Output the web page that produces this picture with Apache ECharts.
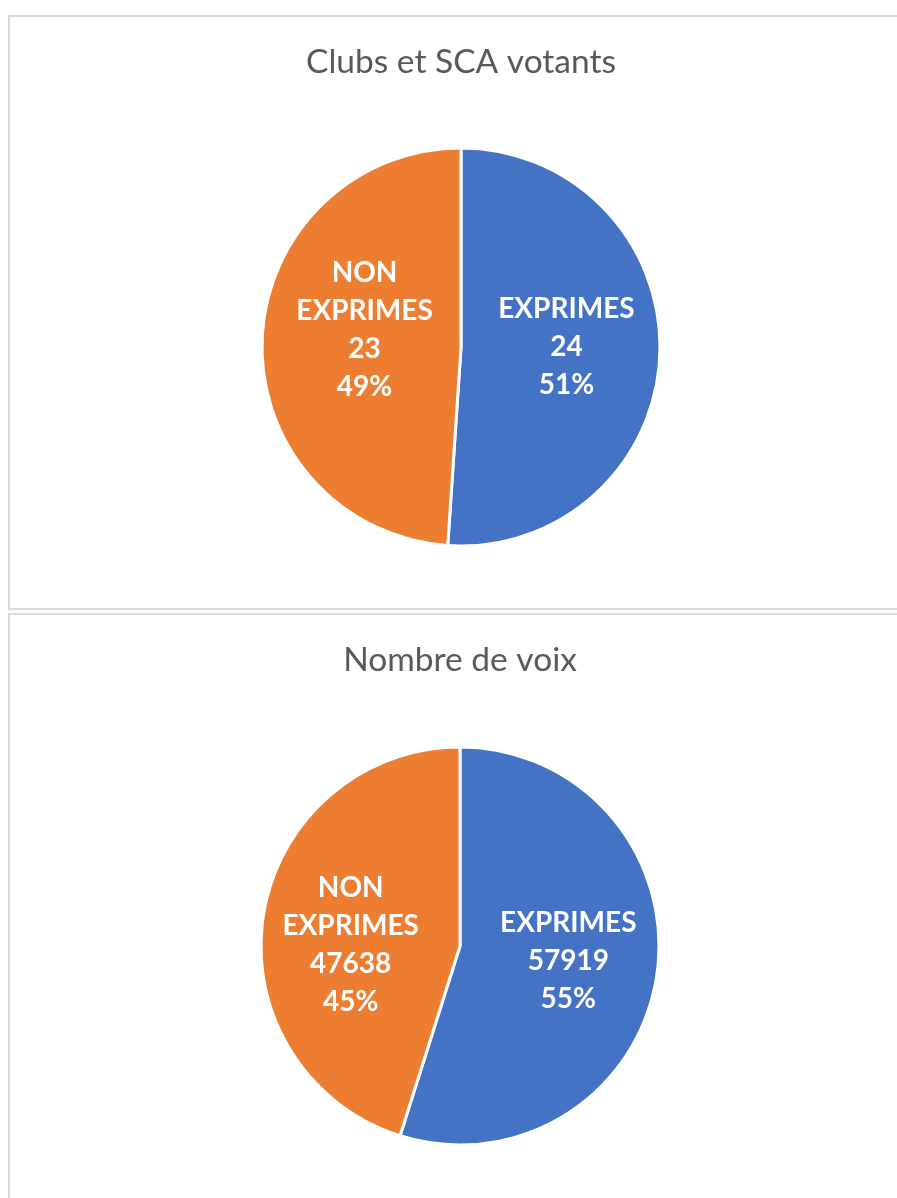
<!DOCTYPE html>
<html>
<head>
<meta charset="utf-8">
<script src="https://cdn.jsdelivr.net/npm/echarts@6/dist/echarts.min.js"></script>
<style>
  html, body { margin: 0; padding: 0; background: #fff; overflow: hidden; width: 897px; height: 1198px; }
  .box { position: absolute; left: 8px; width: 920px; border: 2px solid #d9d9d9; box-sizing: border-box; background: #fff; }
  #b1 { top: 15px; height: 595px; }
  #b2 { top: 613px; height: 620px; }
  .chart { position: absolute; left: 0; top: 0; width: 916px; }
</style>
</head>
<body>
<div class="box" id="b1"><div class="chart" id="c1" style="height:591px"></div></div>
<div class="box" id="b2"><div class="chart" id="c2" style="height:616px"></div></div>
<script>
const categories = ['EXPRIMES', 'NON EXPRIMES'];
const clubsValues = [24, 23];
const voixValues = [57919, 47638];
const titles = ['Clubs et SCA votants', 'Nombre de voix'];
const colors = ['#4472C4', '#ED7D31'];

function buildOption(title, values, center, offsets) {
  return {
    animation: false,
    title: {
      text: title,
      left: center[0] - 5,
      textAlign: 'center',
      top: 23,
      textStyle: { fontFamily: 'Lato', fontWeight: 'normal', fontSize: 33.5, color: '#595959' }
    },
    series: [{
      type: 'pie',
      center: center,
      radius: 199,
      startAngle: 90,
      clockwise: true,
      percentPrecision: 0,
      itemStyle: { borderColor: '#ffffff', borderWidth: 3 },
      label: {
        show: true,
        position: 'inside',
        color: '#ffffff',
        fontFamily: 'Lato',
        fontWeight: 'bold',
        fontSize: 28,
        lineHeight: 38,
        align: 'center',
        formatter: p => p.name.replace(' ', '\n') + '\n' + p.value + '\n' + p.percent + '%'
      },
      labelLine: { show: false },
      data: categories.map((c, i) => ({
        name: c,
        value: values[i],
        itemStyle: { color: colors[i] },
        label: { offset: offsets[i] }
      }))
    }]
  };
}

const c1 = echarts.init(document.getElementById('c1'), null, { renderer: 'canvas' });
c1.setOption(buildOption(titles[0], clubsValues, [451, 330], [[3, -3], [6, -14]]));
const c2 = echarts.init(document.getElementById('c2'), null, { renderer: 'canvas' });
c2.setOption(buildOption(titles[1], voixValues, [450, 331], [[7, -1], [-8, 15]]));
</script>
</body>
</html>
